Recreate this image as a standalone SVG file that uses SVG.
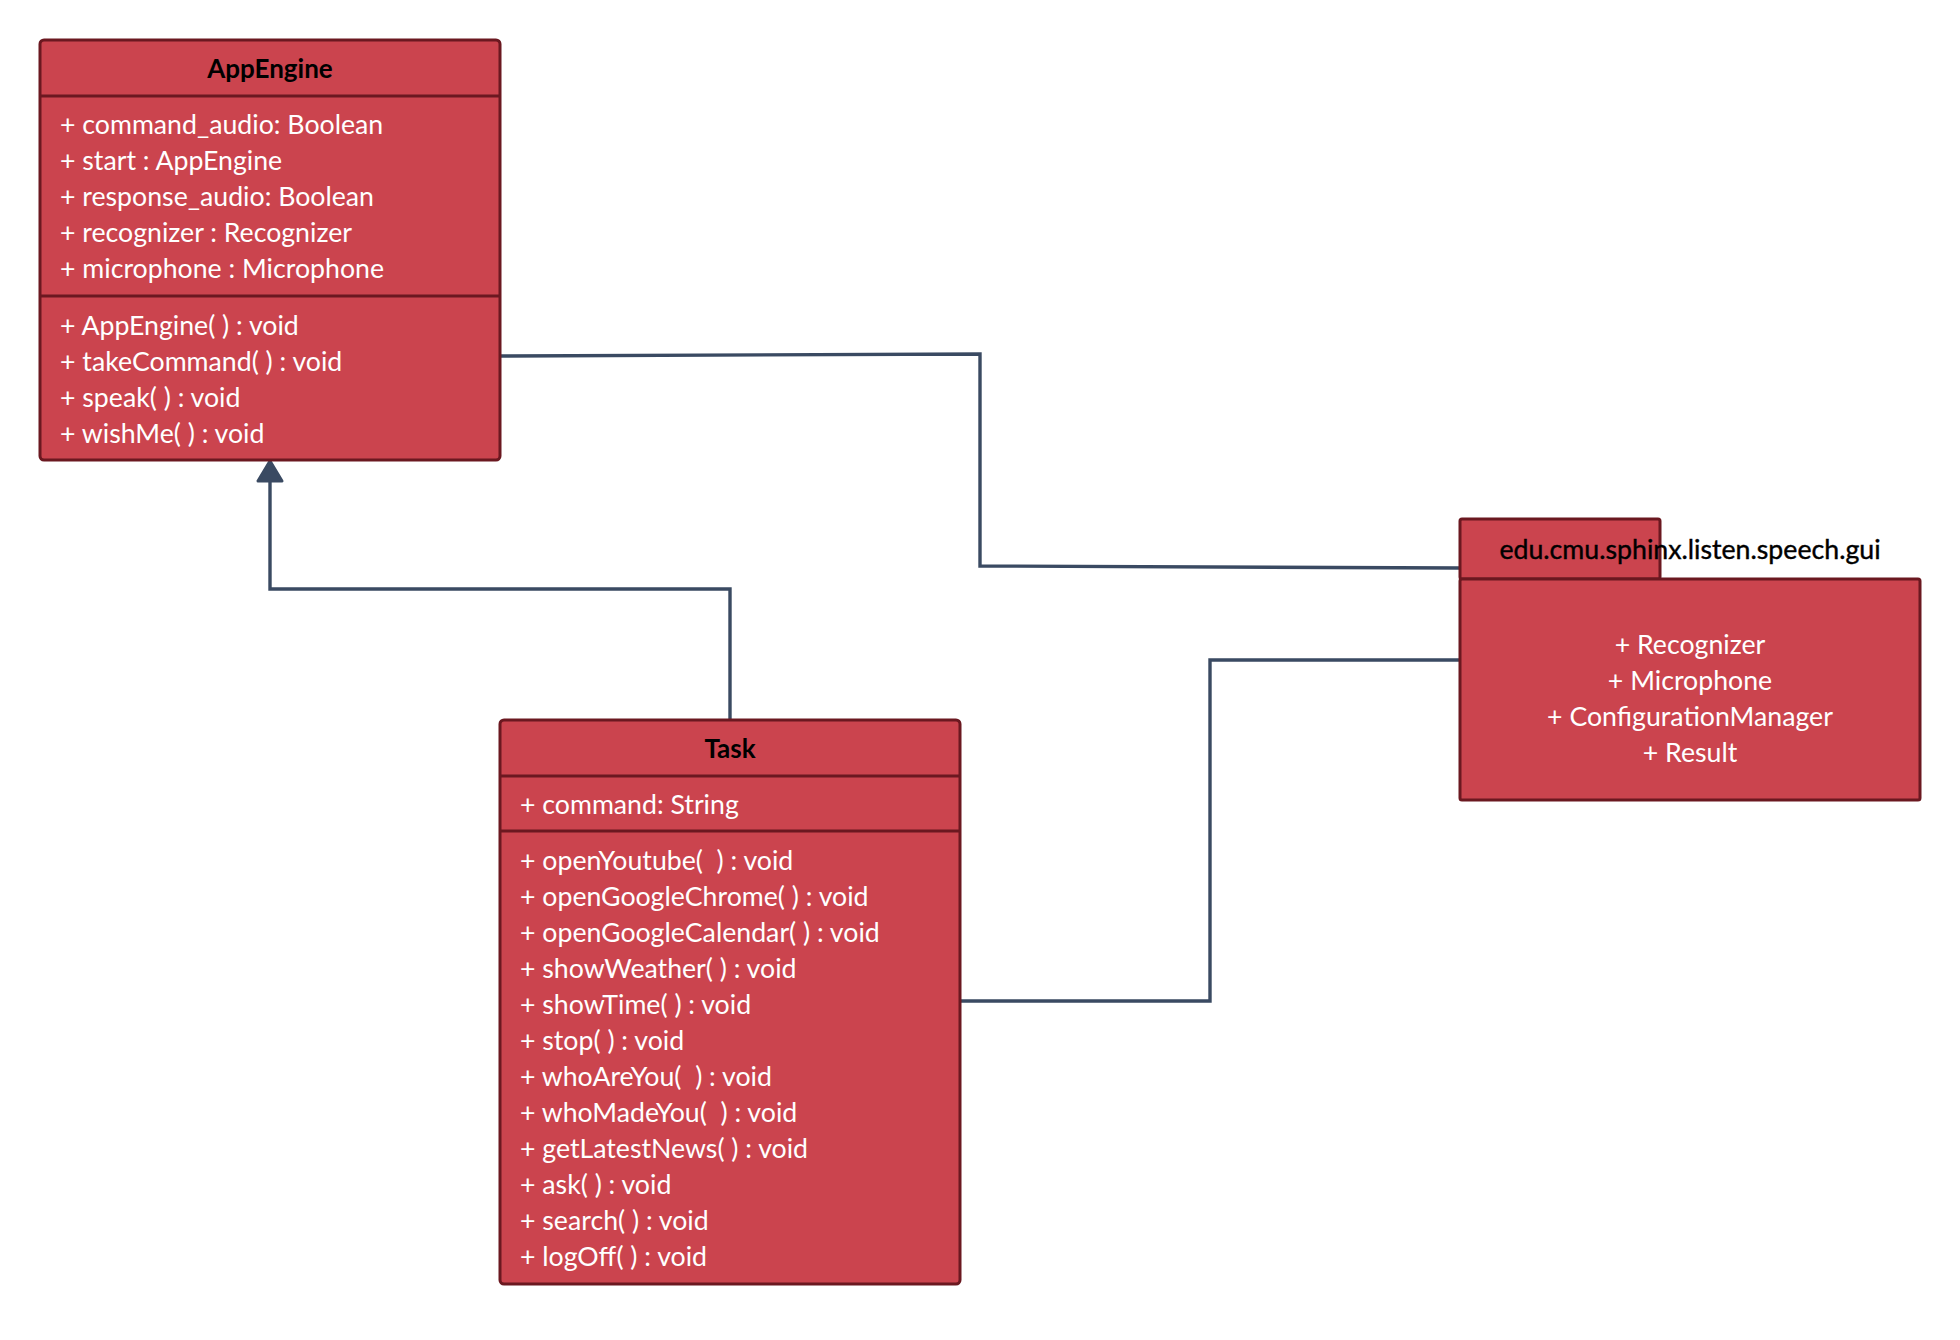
<svg xmlns="http://www.w3.org/2000/svg" width="1960" height="1340" viewBox="0 0 1960 1340">
  <style>
    .box { fill: #cb444e; stroke: #6b1820; stroke-width: 3; }
    .div { stroke: #6b1820; stroke-width: 3; }
    .title { font-family: Lato, "Liberation Sans", sans-serif; font-size: 26px; font-weight: bold; fill: #000000; text-anchor: middle; }
    .member { font-family: Lato, "Liberation Sans", sans-serif; font-size: 26.7px; fill: #ffffff; white-space: pre; }
    .center { text-anchor: middle; }
    .pkgname { font-family: Lato, "Liberation Sans", sans-serif; font-size: 26.7px; fill: #000000; text-anchor: middle; stroke: #000000; stroke-width: 0.4; }
    .conn { fill: none; stroke: #3a4a62; stroke-width: 3.4; }
  </style>
  <rect width="1960" height="1340" fill="#ffffff"/>

  <!-- connectors -->
  <g id="connectors">
    <polyline class="conn" points="730,720 730,589 270,589 270,482" />
    <path d="M270,461 L282,481 L258,481 Z" fill="#3a4a62" stroke="#3a4a62" stroke-width="3" stroke-linejoin="round"/>
    <polyline class="conn" points="500,356 980,354 980,566 1460,568" />
    <polyline class="conn" points="960,1001 1210,1001 1210,660 1460,660" />
  </g>

  <!-- AppEngine class -->
  <g id="AppEngine">
    <rect class="box" x="40" y="40" width="460" height="420" rx="4"/>
    <line class="div" x1="40" y1="96" x2="500" y2="96"/>
    <line class="div" x1="40" y1="296" x2="500" y2="296"/>
    <text class="title" x="270" y="78">AppEngine</text>
    <text class="member" x="60" y="134">+ command_audio: Boolean</text>
    <text class="member" x="60" y="170">+ start : AppEngine</text>
    <text class="member" x="60" y="206">+ response_audio: Boolean</text>
    <text class="member" x="60" y="242">+ recognizer : Recognizer</text>
    <text class="member" x="60" y="278">+ microphone : Microphone</text>
    <text class="member" x="60" y="335">+ AppEngine( ) : void</text>
    <text class="member" x="60" y="371">+ takeCommand( ) : void</text>
    <text class="member" x="60" y="407">+ speak( ) : void</text>
    <text class="member" x="60" y="443">+ wishMe( ) : void</text>
  </g>

  <!-- Task class -->
  <g id="Task">
    <rect class="box" x="500" y="720" width="460" height="564" rx="4"/>
    <line class="div" x1="500" y1="776" x2="960" y2="776"/>
    <line class="div" x1="500" y1="831" x2="960" y2="831"/>
    <text class="title" x="730" y="758">Task</text>
    <text class="member" x="520" y="814">+ command: String</text>
    <text class="member" x="520" y="870">+ openYoutube(  ) : void</text>
    <text class="member" x="520" y="906">+ openGoogleChrome( ) : void</text>
    <text class="member" x="520" y="942">+ openGoogleCalendar( ) : void</text>
    <text class="member" x="520" y="978">+ showWeather( ) : void</text>
    <text class="member" x="520" y="1014">+ showTime( ) : void</text>
    <text class="member" x="520" y="1050">+ stop( ) : void</text>
    <text class="member" x="520" y="1086">+ whoAreYou(  ) : void</text>
    <text class="member" x="520" y="1122">+ whoMadeYou(  ) : void</text>
    <text class="member" x="520" y="1158">+ getLatestNews( ) : void</text>
    <text class="member" x="520" y="1194">+ ask( ) : void</text>
    <text class="member" x="520" y="1230">+ search( ) : void</text>
    <text class="member" x="520" y="1266">+ logOff( ) : void</text>
  </g>

  <!-- speech gui package -->
  <g id="SpeechGuiPackage">
    <rect class="box" x="1460" y="519" width="200" height="60" rx="2"/>
    <rect class="box" x="1460" y="579" width="460" height="221" rx="2"/>
    <text class="pkgname" x="1690" y="559">edu.cmu.sphinx.listen.speech.gui</text>
    <text class="member center" x="1690" y="654">+ Recognizer</text>
    <text class="member center" x="1690" y="690">+ Microphone</text>
    <text class="member center" x="1690" y="726">+ ConfigurationManager</text>
    <text class="member center" x="1690" y="762">+ Result</text>
  </g>
</svg>
